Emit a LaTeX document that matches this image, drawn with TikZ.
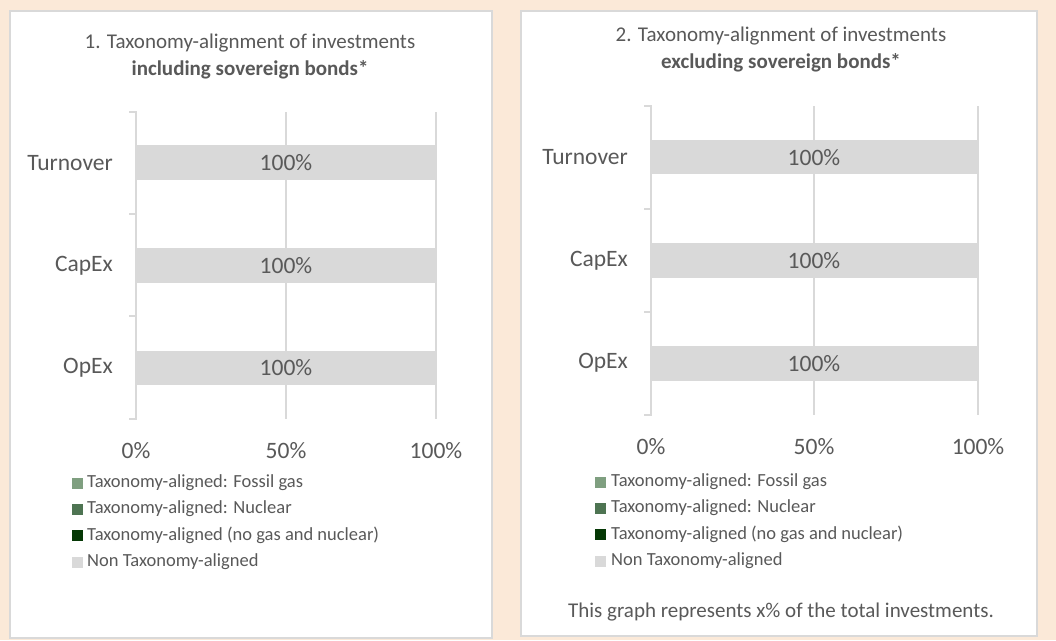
\documentclass[tikz,border=0pt]{standalone}
\usepackage{fontspec}
\setmainfont{Carlito}
\definecolor{bgpeach}{HTML}{FBE9D8}
\definecolor{framegray}{HTML}{D9D9D9}
\definecolor{txtgray}{HTML}{595959}
\definecolor{bargray}{HTML}{D9D9D9}
\definecolor{fossil}{HTML}{7F9F80}
\definecolor{nuclear}{HTML}{4E7452}
\definecolor{nogas}{HTML}{053805}
\tikzset{
  panel/.style={draw=framegray, line width=2pt, fill=white},
  gridln/.style={draw=framegray, line width=1.6pt},
  bar/.style={fill=bargray, draw=none},
  catlabel/.style={anchor=east, text=txtgray, font=\fontsize{23.5}{26}\selectfont, inner sep=0pt},
  barlabel/.style={text=txtgray, font=\fontsize{23.5}{26}\selectfont, inner sep=0pt},
  ticklabel/.style={text=txtgray, font=\fontsize{23.5}{26}\selectfont, inner sep=0pt},
  titlelabel/.style={text=txtgray, font=\fontsize{21}{27}\selectfont, align=center, inner sep=0pt},
  legtext/.style={anchor=west, text=txtgray, font=\fontsize{18.5}{22}\selectfont, inner sep=0pt},
  legsq/.style={minimum width=11pt, minimum height=11pt, inner sep=0pt, draw=none},
  foot/.style={text=txtgray, font=\fontsize{21}{25}\selectfont, inner sep=0pt}
}
\begin{document}
\begin{tikzpicture}[x=1pt,y=-1pt]
\useasboundingbox (0,0) rectangle (1056,640);
\fill[bgpeach] (0,0) rectangle (1056,640);
% panels
\node[panel, minimum width=482pt, minimum height=627pt, anchor=north west, inner sep=0pt] (p1) at (9,10) {};
\node[panel, minimum width=516pt, minimum height=625pt, anchor=north west, inner sep=0pt] (p2) at (520,10) {};

% ===== Chart 1 =====
\node[titlelabel] (t1) at (250,56) {1. Taxonomy-alignment of investments\\\textbf{including sovereign bonds*}};
\draw[gridln] (286,112) -- (286,419);
\draw[gridln] (436,112) -- (436,419);
\draw[gridln] (129,112) -- (136,112) -- (136,419) -- (129,419);
\draw[gridln] (129,214) -- (136,214);
\draw[gridln] (129,316) -- (136,316);
\fill[bar] (136,145) rectangle (436,180);
\fill[bar] (136,248) rectangle (436,283);
\fill[bar] (136,351) rectangle (436,385);
\node[barlabel] (b1a) at (286,163) {100\%};
\node[barlabel] (b1b) at (286,266) {100\%};
\node[barlabel] (b1c) at (286,368) {100\%};
\node[catlabel] (c1a) at (113,163) {Turnover};
\node[catlabel] (c1b) at (113,266) {CapEx};
\node[catlabel] (c1c) at (113,368) {OpEx};
\node[ticklabel] (x1a) at (136,451) {0\%};
\node[ticklabel] (x1b) at (286,451) {50\%};
\node[ticklabel] (x1c) at (436,451) {100\%};
\node[legsq, fill=fossil] (l1a) at (77.5,483) {};
\node[legsq, fill=nuclear] (l1b) at (77.5,509) {};
\node[legsq, fill=nogas] (l1c) at (77.5,535) {};
\node[legsq, fill=bargray] (l1d) at (77.5,562) {};
\node[legtext] (m1a) at (87,483) {Taxonomy-aligned: Fossil gas};
\node[legtext] (m1b) at (87,509) {Taxonomy-aligned: Nuclear};
\node[legtext] (m1c) at (87,535) {Taxonomy-aligned (no gas and nuclear)};
\node[legtext] (m1d) at (87,562) {Non Taxonomy-aligned};

% ===== Chart 2 =====
\node[titlelabel] (t2) at (781,49) {2. Taxonomy-alignment of investments\\\textbf{excluding sovereign bonds*}};
\draw[gridln] (814,106) -- (814,415);
\draw[gridln] (978,106) -- (978,415);
\draw[gridln] (644,106) -- (651,106) -- (651,415) -- (644,415);
\draw[gridln] (644,209) -- (651,209);
\draw[gridln] (644,312) -- (651,312);
\fill[bar] (651,140) rectangle (978,174);
\fill[bar] (651,243) rectangle (978,278);
\fill[bar] (651,346) rectangle (978,381);
\node[barlabel] (b2a) at (814,158) {100\%};
\node[barlabel] (b2b) at (814,261) {100\%};
\node[barlabel] (b2c) at (814,364) {100\%};
\node[catlabel] (c2a) at (628,157) {Turnover};
\node[catlabel] (c2b) at (628,261) {CapEx};
\node[catlabel] (c2c) at (628,363) {OpEx};
\node[ticklabel] (x2a) at (651,447) {0\%};
\node[ticklabel] (x2b) at (814,447) {50\%};
\node[ticklabel] (x2c) at (978,447) {100\%};
\node[legsq, fill=fossil] (l2a) at (600.5,482) {};
\node[legsq, fill=nuclear] (l2b) at (600.5,508) {};
\node[legsq, fill=nogas] (l2c) at (600.5,534) {};
\node[legsq, fill=bargray] (l2d) at (600.5,561) {};
\node[legtext] (m2a) at (611,482) {Taxonomy-aligned: Fossil gas};
\node[legtext] (m2b) at (611,508) {Taxonomy-aligned: Nuclear};
\node[legtext] (m2c) at (611,534) {Taxonomy-aligned (no gas and nuclear)};
\node[legtext] (m2d) at (611,561) {Non Taxonomy-aligned};
\node[foot] (f2) at (781,612) {This graph represents x\% of the total investments.};
\end{tikzpicture}
\end{document}
